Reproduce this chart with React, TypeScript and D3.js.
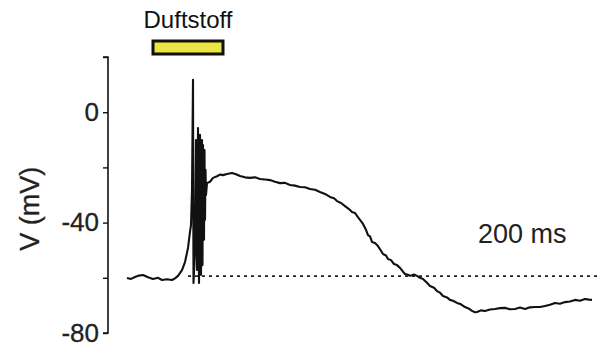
import React, { useRef, useEffect } from 'react';
import * as d3 from 'd3';

// time in ms, membrane potential in mV
const timeMs = [
  0, 8, 16, 24, 32, 42, 52, 62, 70, 80, 90, 96, 102, 110, 116, 122, 126, 128, 130, 132,
  133, 136, 138, 140, 142, 144, 146, 148, 150, 151, 152, 154, 155, 156, 157, 158, 160, 166, 172, 180,
  186, 192, 200, 210, 218, 226, 236, 246, 256, 266, 276, 286, 296, 306, 316, 326, 336, 346, 356, 366,
  376, 386, 396, 406, 414, 420, 428, 436, 444, 450, 456, 460, 466, 472, 478, 482, 486, 490, 496, 502,
  508, 512, 518, 522, 528, 534, 540, 546, 552, 556, 562, 566, 574, 580, 586, 592, 600, 606, 614, 620,
  626, 632, 640, 646, 652, 660, 668, 676, 684, 690, 696, 700, 708, 716, 726, 736, 746, 756, 766, 776,
  786, 796, 806, 816, 826, 836, 846, 856, 866, 876, 886, 896, 906, 916, 924, 930,
];
const voltageMv = [
  -60.1, -60.4, -59.7, -59.2, -59.0, -59.8, -60.4, -60.0, -60.8, -60.5, -60.8, -60.2, -59.3, -57.2, -54.3, -49.2, -43.4, -40.9, -28.2, 11.7,
  -61.9, -49.9, -10.1, -57.2, -5.7, -61.9, -8.2, -59.0, -10.1, -55.4, -11.9, -46.2, -13.7, -39.0, -20.9, -30.0, -25.7, -25.2, -23.8, -23.2,
  -22.6, -22.8, -22.4, -22.0, -22.5, -23.1, -23.6, -23.8, -23.6, -24.2, -24.4, -24.6, -25.2, -25.7, -25.6, -26.4, -26.6, -27.1, -27.2, -27.8,
  -28.1, -28.9, -29.6, -30.7, -31.2, -32.2, -32.9, -34.0, -35.1, -36.2, -36.5, -37.6, -39.0, -40.5, -42.6, -44.5, -45.0, -47.0, -47.4, -48.5,
  -50.2, -51.4, -51.9, -53.2, -53.6, -55.0, -55.4, -56.4, -57.8, -58.6, -58.9, -59.3, -58.8, -59.3, -60.0, -60.4, -61.8, -63.0, -63.6, -64.8,
  -65.4, -66.6, -67.1, -68.0, -68.3, -69.1, -69.6, -70.6, -71.2, -72.0, -72.5, -72.4, -71.8, -72.0, -71.5, -71.3, -71.0, -70.9, -71.4, -71.3,
  -70.8, -71.3, -70.7, -70.6, -70.6, -70.2, -69.8, -69.1, -69.4, -68.8, -68.6, -68.0, -68.3, -67.7, -67.9, -68.0,
];

const yTicks = [20, 0, -20, -40, -60, -80];
const yTickLabels = ['', '0', '', '-40', '', '-80'];

const restingMv = -59.4;
const restingStart = 122;
const stimulus = [52, 192];

export default function App() {
  const svgRef = useRef<SVGSVGElement>(null);

  useEffect(() => {
    const width = 597;
    const svg = d3.select(svgRef.current);
    svg.selectAll('*').remove();

    const x = d3.scaleLinear().domain([0, 940]).range([127, 597]);
    const y = d3.scaleLinear().domain([-80, 20]).range([333, 57]);
    const font = 'Arial, "Liberation Sans", Helvetica, sans-serif';

    // y axis
    const axis = svg.append('g')
      .attr('transform', 'translate(108,0)')
      .call(d3.axisLeft(y).tickValues(yTicks).tickSize(5).tickFormat((d, i) => yTickLabels[i]));
    axis.select('.domain').attr('d', `M-5,${y(20)}H0V${y(-80)}H-5`).attr('stroke', '#111').attr('stroke-width', 1.6);
    axis.selectAll('.tick line').attr('stroke', '#111').attr('stroke-width', 1.4);
    axis.selectAll('.tick text')
      .attr('x', -9)
      .attr('font-family', font)
      .attr('font-size', 26)
      .attr('fill', '#222')
      .attr('stroke', '#222')
      .attr('stroke-width', 0.3);

    svg.append('text')
      .attr('transform', `translate(39,${y(-35)}) rotate(-90)`)
      .attr('text-anchor', 'middle')
      .attr('font-family', font)
      .attr('font-size', 27)
      .attr('fill', '#222')
      .attr('stroke', '#222')
      .attr('stroke-width', 0.3)
      .text('V (mV)');

    // resting potential
    svg.append('line')
      .attr('x1', x(restingStart)).attr('x2', width)
      .attr('y1', y(restingMv)).attr('y2', y(restingMv))
      .attr('stroke', '#222')
      .attr('stroke-width', 1.6)
      .attr('stroke-dasharray', '3 4');

    // trace
    const line = d3.line<number>()
      .x((d, i) => x(timeMs[i]))
      .y(d => y(d));
    svg.append('path')
      .attr('d', line(voltageMv))
      .attr('fill', 'none')
      .attr('stroke', '#111')
      .attr('stroke-width', 2.1)
      .attr('stroke-linejoin', 'round');

    // odorant stimulus
    svg.append('rect')
      .attr('x', x(stimulus[0]))
      .attr('y', 41)
      .attr('width', x(stimulus[1]) - x(stimulus[0]))
      .attr('height', 13)
      .attr('fill', '#eee640')
      .attr('stroke', '#111')
      .attr('stroke-width', 3);

    svg.append('text')
      .attr('x', (x(stimulus[0]) + x(stimulus[1])) / 2)
      .attr('y', 28)
      .attr('text-anchor', 'middle')
      .attr('font-family', font)
      .attr('font-size', 24)
      .attr('fill', '#111')
      .text('Duftstoff');

    svg.append('text')
      .attr('x', 478)
      .attr('y', 243)
      .attr('font-family', font)
      .attr('font-size', 27)
      .attr('fill', '#222')
      .text('200 ms');
  }, []);

  return (
    <svg
      ref={svgRef}
      width={597}
      height={351}
      style={{ position: 'absolute', left: 0, top: 0, background: '#fff' }}
    />
  );
}
